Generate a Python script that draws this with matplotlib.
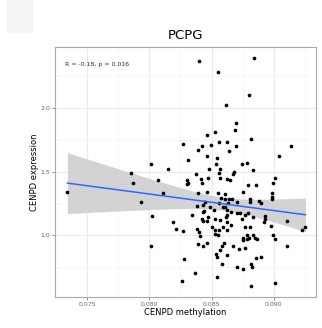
import matplotlib.pyplot as plt
import numpy as np
from matplotlib.patches import Rectangle

# CENPD methylation (x) vs CENPD expression (y)
methylation = [
    0.08401, 0.08549, 0.08616, 0.08527, 0.08461, 0.08843, 0.08800, 0.08693, 0.08688, 0.07342,
    0.07853, 0.07867, 0.07933, 0.08273, 0.08421, 0.08493, 0.08562, 0.08626, 0.08393, 0.08011,
    0.08152, 0.08313, 0.08461, 0.08546, 0.08535, 0.08482, 0.08567, 0.08562, 0.08372, 0.08413,
    0.08423, 0.08300, 0.08313, 0.08300, 0.08474, 0.08567, 0.08626, 0.08072, 0.08393, 0.08461,
    0.08549, 0.08112, 0.08573, 0.08608, 0.08447, 0.08429, 0.08385, 0.08562, 0.08589, 0.08621,
    0.08487, 0.08519, 0.08439, 0.08429, 0.08340, 0.08019, 0.08626, 0.08816, 0.08696, 0.08640,
    0.09135, 0.09043, 0.08746, 0.08782, 0.08835, 0.08680, 0.08674, 0.08648, 0.09009, 0.08997,
    0.08790, 0.08854, 0.08754, 0.08608, 0.08982, 0.08987, 0.08987, 0.08644, 0.08666, 0.08706,
    0.08808, 0.08808, 0.08880, 0.08896, 0.08629, 0.08608, 0.08656, 0.08728, 0.08768, 0.08790,
    0.08835, 0.08929, 0.08193, 0.08214, 0.08268, 0.08421, 0.08474, 0.08433, 0.08461, 0.08527,
    0.08567, 0.08616, 0.08626, 0.08501, 0.08380, 0.08401, 0.08407, 0.08527, 0.08562, 0.08527,
    0.08554, 0.08594, 0.08626, 0.08011, 0.08393, 0.08433, 0.08461, 0.08600, 0.08581, 0.08567,
    0.08535, 0.08546, 0.08626, 0.08281, 0.08586, 0.08364, 0.08547, 0.08260, 0.08656, 0.08701,
    0.08742, 0.08768, 0.08808, 0.08754, 0.08782, 0.08800, 0.08835, 0.08848, 0.08862, 0.08754,
    0.08782, 0.08929, 0.08923, 0.08977, 0.08995, 0.09009, 0.09103, 0.09109, 0.08674, 0.08720,
    0.08768, 0.08854, 0.08896, 0.08701, 0.08754, 0.08816, 0.08822, 0.08816, 0.09009, 0.09228,
    0.09254,
]
expression = [
    2.37, 2.28, 2.02, 1.81, 1.79, 2.39, 2.10, 1.88, 1.83, 1.34,
    1.49, 1.41, 1.26, 1.72, 1.70, 1.71, 1.73, 1.73, 1.67, 1.56,
    1.52, 1.59, 1.62, 1.61, 1.56, 1.52, 1.52, 1.49, 1.48, 1.44,
    1.41, 1.43, 1.41, 1.40, 1.45, 1.45, 1.44, 1.43, 1.33, 1.34,
    1.33, 1.33, 1.29, 1.28, 1.26, 1.24, 1.23, 1.25, 1.22, 1.20,
    1.22, 1.20, 1.19, 1.18, 1.16, 1.15, 1.16, 1.76, 1.70, 1.66,
    1.70, 1.62, 1.56, 1.57, 1.51, 1.50, 1.48, 1.43, 1.45, 1.41,
    1.39, 1.39, 1.34, 1.32, 1.33, 1.30, 1.28, 1.28, 1.28, 1.26,
    1.28, 1.26, 1.27, 1.25, 1.25, 1.22, 1.18, 1.17, 1.16, 1.17,
    1.14, 1.15, 1.10, 1.05, 1.03, 1.13, 1.14, 1.11, 1.11, 1.13,
    1.12, 1.14, 1.10, 1.06, 1.05, 1.02, 0.99, 1.04, 1.04, 1.01,
    1.00, 1.06, 1.04, 0.91, 0.93, 0.91, 0.94, 0.94, 0.91, 0.88,
    0.85, 0.83, 0.84, 0.81, 0.77, 0.70, 0.67, 0.64, 1.08, 1.17,
    1.13, 1.06, 1.06, 0.98, 1.00, 0.98, 1.00, 0.98, 0.97, 0.96,
    0.97, 1.13, 1.10, 1.07, 1.00, 0.97, 1.11, 0.91, 0.91, 0.89,
    0.90, 0.82, 0.83, 0.75, 0.73, 0.77, 0.75, 0.60, 0.62, 1.04,
    1.06,
]

title = "PCPG"
stat_label = "R = -0.18, p = 0.016"
x_ticks = [0.075, 0.080, 0.085, 0.090]
y_ticks = [1.0, 1.5, 2.0]

x = np.array(methylation)
y = np.array(expression)

# linear fit with 95% confidence band (like geom_smooth(method = "lm"))
n = len(x)
slope, intercept = np.polyfit(x, y, 1)
xs = np.linspace(x.min(), x.max(), 100)
fit = slope * xs + intercept
resid = y - (slope * x + intercept)
s = np.sqrt(np.sum(resid ** 2) / (n - 2))
se = s * np.sqrt(1 / n + (xs - x.mean()) ** 2 / np.sum((x - x.mean()) ** 2))
band = 1.97 * se

fig = plt.figure(figsize=(3.22, 3.28), dpi=100)
fig.patches.append(Rectangle((7 / 322, 1 - 32 / 328), 25 / 322, 32 / 328,
                             transform=fig.transFigure, color="#f4f4f4", zorder=0))
ax = fig.add_axes([0.171, 0.0945, 0.81, 0.762])

ax.fill_between(xs, fit - band, fit + band, color="#d3d3d3", lw=0, zorder=1)
ax.plot(xs, fit, color="#3366ff", lw=1.1, zorder=3)
ax.scatter(x, y, s=7, c="black", lw=0, zorder=2)

ax.set_xlim(0.07243, 0.09338)
ax.set_ylim(0.512, 2.48)
ax.set_xticks(x_ticks)
ax.set_xticklabels([f"{t:.3f}" for t in x_ticks])
ax.set_yticks(y_ticks)
ax.set_yticklabels([f"{t:.1f}" for t in y_ticks])
ax.set_xticks([0.0775, 0.0825, 0.0875, 0.0925], minor=True)
ax.set_yticks([0.75, 1.25, 1.75, 2.25], minor=True)

ax.grid(True, which="major", color="#ebebeb", lw=0.8)
ax.grid(True, which="minor", color="#f3f3f3", lw=0.5)
ax.set_axisbelow(True)
ax.tick_params(which="major", labelsize=4.5, length=2, width=0.5,
               color="#666666", labelcolor="#666666", pad=1.5)
ax.tick_params(which="minor", length=0)
for sp in ax.spines.values():
    sp.set_color("#aaaaaa")
    sp.set_linewidth(0.8)

ax.text(0.04, 0.93, stat_label, transform=ax.transAxes, fontsize=4.5,
        color="#333333", va="center")
ax.set_title(title, fontsize=9.5, pad=6)
ax.set_xlabel("CENPD methylation", fontsize=6, labelpad=1)
ax.set_ylabel("CENPD expression", fontsize=6, labelpad=1)

fig.savefig("out.png", dpi=100)
